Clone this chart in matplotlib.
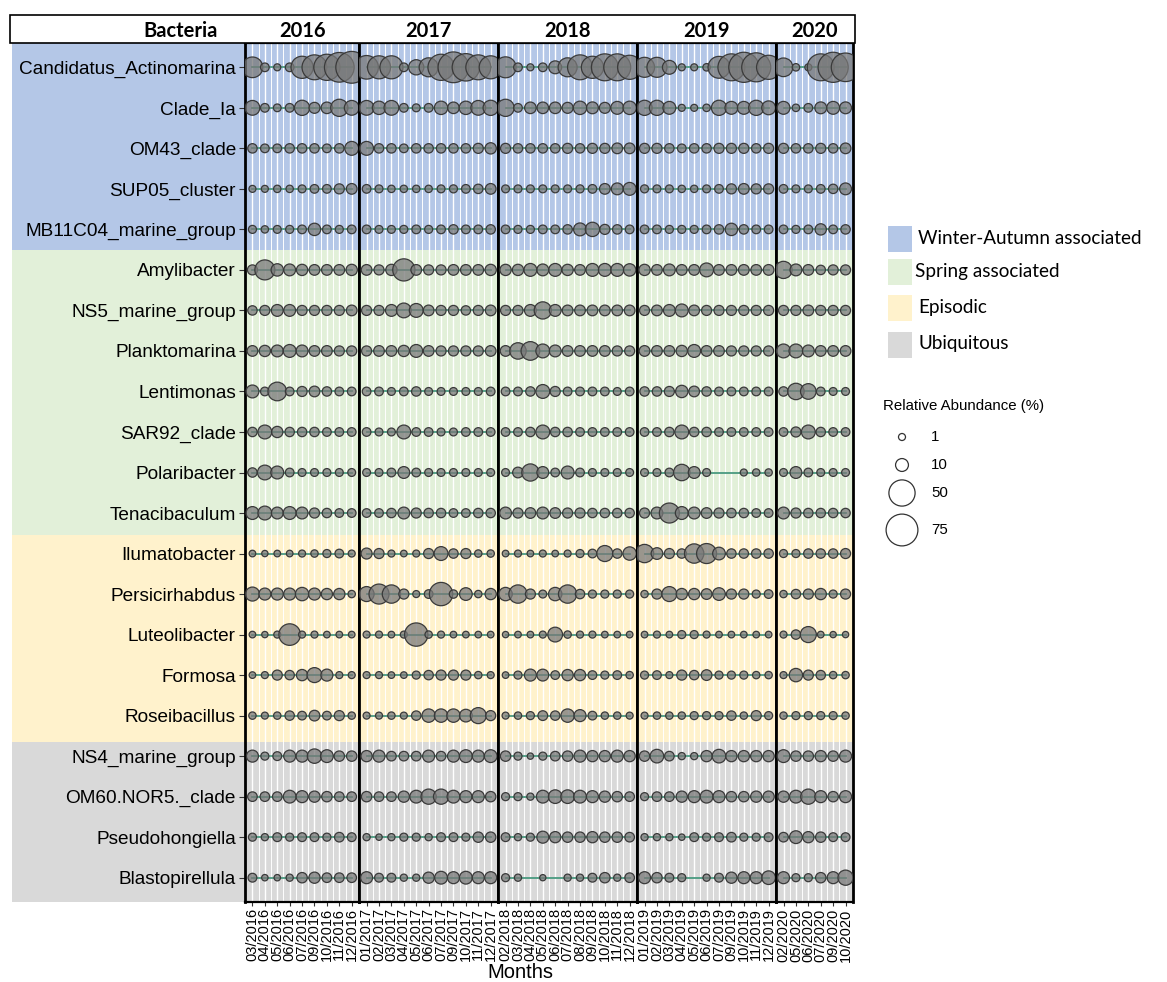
import numpy as np
import matplotlib
matplotlib.use("Agg")
import matplotlib.pyplot as plt
from matplotlib.patches import Rectangle
from matplotlib.transforms import blended_transform_factory

plt.rcParams['font.family'] = ['Liberation Sans', 'DejaVu Sans']

# ---------------- data ----------------
years = ["2016", "2017", "2018", "2019", "2020"]
months_2016 = ["03/2016", "04/2016", "05/2016", "06/2016", "07/2016", "09/2016", "10/2016", "11/2016", "12/2016"]
months_2017 = ["01/2017", "02/2017", "03/2017", "04/2017", "05/2017", "06/2017", "07/2017", "09/2017", "10/2017", "11/2017", "12/2017"]
months_2018 = ["02/2018", "03/2018", "04/2018", "05/2018", "06/2018", "07/2018", "08/2018", "09/2018", "10/2018", "11/2018", "12/2018"]
months_2019 = ["01/2019", "02/2019", "03/2019", "04/2019", "05/2019", "06/2019", "07/2019", "09/2019", "10/2019", "11/2019", "12/2019"]
months_2020 = ["02/2020", "05/2020", "06/2020", "07/2020", "09/2020", "10/2020"]

bacteria = ["Candidatus_Actinomarina", "Clade_Ia", "OM43_clade", "SUP05_cluster", "MB11C04_marine_group",
            "Amylibacter", "NS5_marine_group", "Planktomarina", "Lentimonas", "SAR92_clade", "Polaribacter",
            "Tenacibaculum", "Ilumatobacter", "Persicirhabdus", "Luteolibacter", "Formosa", "Roseibacillus",
            "NS4_marine_group", "OM60.NOR5._clade", "Pseudohongiella", "Blastopirellula"]

group_names = ["Winter-Autumn associated", "Spring associated", "Episodic", "Ubiquitous"]
group_colors = ["#B4C7E7", "#E2F0D9", "#FFF2CC", "#D9D9D9"]
size_breaks = [1, 10, 50, 75]

# relative abundance (%) per month: 2016 | 2017 | 2018 | 2019 | 2020 (0 = not detected)
candidatus_actinomarina = [30, 3, 1, 3, 35, 45, 50, 65, 75,
                           40, 38, 38, 3, 15, 25, 50, 70, 55, 45, 38,
                           31, 3, 1, 3, 10, 25, 45, 35, 53, 53, 42,
                           28, 28, 12, 1, 1, 1.5, 34, 53, 67, 62, 42,
                           24, 1.5, 1, 53, 67, 60]
clade_ia = [14, 3, 1.8, 3, 15, 6.5, 7.5, 20, 14,
            14, 11, 14, 3, 2, 3, 11, 7.5, 11, 14, 15,
            20, 3, 7.5, 7.5, 7.5, 6.5, 11, 8, 6.5, 10, 11,
            15, 15, 10, 1, 1, 1.5, 15, 10, 10, 15, 12,
            10, 1.5, 3, 8, 10, 8]
om43_clade = [4, 3, 3, 4, 4, 4, 3, 4, 12,
              12, 4, 4, 3, 4, 4, 4, 4, 4, 5, 7,
              5, 4, 4, 4, 4, 5, 4, 5, 5, 6, 6,
              5, 5, 4, 3, 4, 4, 5, 5, 5, 4, 5,
              5, 4, 4, 5, 4, 6]
sup05_cluster = [1, 1, 1.4, 1.4, 2, 3, 3, 5, 6,
                 3, 2, 1.4, 1.4, 1.4, 1.4, 2, 2.2, 3, 4, 6,
                 2, 2, 2, 2, 2, 2, 2.2, 3, 6, 8, 10,
                 2.2, 2, 2, 1.4, 1.4, 2, 3, 5, 6, 5, 5,
                 3, 2, 2, 3, 4, 8]
mb11c04_marine_group = [2.2, 1.4, 2, 2.2, 3, 9, 3, 2.2, 3,
                        3, 2, 2, 2.2, 3, 2.2, 3, 4, 3, 3, 4,
                        3, 2.2, 2.2, 3, 3, 4, 10, 13, 5, 4, 3,
                        3, 3, 2.2, 2.2, 2.2, 3, 4, 9, 4, 3, 3,
                        3, 2.2, 3, 7, 3, 4]
amylibacter = [5, 28, 9, 8, 7, 6, 6, 6, 7,
               6, 5, 7, 35, 6, 5, 5, 6, 6, 6, 7,
               7, 7, 10, 8, 10, 7, 6, 10, 10, 10, 9,
               7, 6, 8, 6, 6, 12, 6, 6, 6, 6, 6,
               20, 8, 6, 4, 5, 5]
ns5_marine_group = [4, 5, 8, 8, 5, 5, 5, 5, 6,
                    5, 5, 8, 14, 12, 6, 5, 5, 4, 5, 6,
                    5, 5, 8, 20, 8, 6, 6, 6, 6, 6, 6,
                    5, 6, 8, 10, 6, 5, 5, 5, 5, 5, 5,
                    5, 5, 6, 5, 5, 5]
planktomarina = [6, 7, 8, 10, 8, 6, 6, 5, 5,
                 5, 6, 6, 7, 10, 6, 5, 5, 5, 5, 6,
                 6, 18, 24, 12, 8, 6, 6, 6, 6, 5, 5,
                 6, 6, 6, 7, 10, 6, 6, 5, 5, 5, 5,
                 12, 12, 8, 6, 6, 6]
lentimonas = [10, 3, 24, 3, 5, 6, 4, 3, 3,
              3, 3, 2, 3, 4, 2, 2, 2, 2, 2, 3,
              3, 3, 4, 12, 5, 3, 3, 3, 3, 2, 3,
              4, 4, 5, 9, 6, 4, 3, 3, 3, 3, 3,
              4, 18, 16, 3, 2, 2]
sar92_clade = [4, 12, 7, 4, 4, 4, 3, 3, 3,
               3, 2, 2, 12, 3, 3, 2, 2, 3, 3, 3,
               3, 3, 4, 12, 4, 4, 3, 3, 3, 3, 3,
               3, 3, 4, 12, 4, 4, 3, 3, 3, 3, 3,
               3, 5, 12, 4, 3, 3]
polaribacter = [4, 14, 10, 3, 2, 2, 2, 2, 2,
                2, 2, 3, 8, 3, 2, 2, 2, 2, 2, 2,
                2, 6, 20, 8, 3, 10, 3, 2, 2, 2, 2,
                2, 2, 3, 18, 8, 2, 0, 0, 1, 1.4, 1.4,
                2, 8, 3, 2, 2, 2]
tenacibaculum = [10, 12, 8, 10, 8, 5, 4, 3, 3,
                 3, 3, 4, 8, 5, 4, 4, 3, 3, 4, 4,
                 8, 5, 6, 8, 6, 5, 5, 4, 4, 4, 4,
                 5, 8, 28, 10, 8, 6, 5, 4, 4, 3, 3,
                 8, 5, 4, 4, 4, 4]
ilumatobacter = [0.6, 0.3, 0.6, 0.6, 1, 1.4, 2.2, 3, 1,
                 6.5, 5, 1, 0.6, 1, 5, 12, 4, 5, 1.4, 1.4,
                 0.6, 1, 0.6, 1, 0.6, 1, 2.2, 3, 17, 4, 11,
                 23, 7.7, 5, 4, 26, 28, 9.6, 4, 4, 4, 4,
                 2.2, 2.2, 4, 4, 4, 5]
persicirhabdus = [12.3, 8.3, 8.3, 8.3, 11, 8.3, 7, 7, 1.4,
                  14.5, 28, 23, 5, 1, 3, 39, 2.6, 9.6, 1.4, 7,
                  11, 23, 5, 2, 11, 23, 4, 2.2, 2.2, 2.2, 2.2,
                  1.4, 5, 14.5, 7, 7, 6, 9.6, 5, 5, 2.2, 3,
                  1.4, 4, 5, 7, 2.2, 5]
luteolibacter = [0.6, 0.3, 1, 33, 1, 1, 0.6, 0.6, 0.6,
                 1, 1, 0.6, 1, 39, 1.4, 1, 0.6, 0.6, 0.6, 0.6,
                 0.3, 0.6, 0.6, 1, 14, 1.4, 1, 1, 0.6, 0.6, 0.6,
                 0.6, 1, 0.6, 2.2, 2.2, 1, 0.6, 0.6, 0.6, 0.6, 0.6,
                 1, 4, 17, 0.6, 0.3, 0.3]
formosa = [0.6, 1, 5, 4, 7, 14.5, 8.3, 1, 1,
           1, 1, 0.6, 0.6, 2.2, 4, 5, 5, 5, 1.4, 1,
           0.6, 2.2, 8.3, 8, 3, 7, 7, 3, 2.2, 3, 1.4,
           2.2, 3, 1, 5, 4, 6, 2.2, 2.2, 2.2, 1.4, 1.4,
           1, 11, 5, 4, 1.4, 1.4]
roseibacillus = [1.4, 1, 1.4, 4, 3, 6, 3, 5, 1.4,
                 1, 1, 1.4, 1, 4, 11, 11, 11, 9.6, 17, 5,
                 1, 1.4, 2.2, 4.5, 4, 11, 8.3, 3, 1.4, 1.4, 1,
                 1, 1.4, 1.4, 1.4, 2.2, 2.2, 2.2, 4, 1.4, 5, 2.2,
                 1.4, 2.2, 2.2, 2.2, 2.2, 1.4]
ns4_marine_group = [8.3, 2.2, 3.2, 8.3, 8.3, 13.2, 9.8, 5.5, 5.5,
                    6.9, 8.3, 4.3, 4.3, 4.3, 8.3, 4.3, 8.3, 9.8, 8.3, 9.8,
                    5.5, 2.2, 0.3, 2.2, 4.3, 5.5, 8.3, 6.9, 6.9, 8.3, 6.9,
                    5.5, 11.5, 4.3, 1.2, 1.2, 6.9, 11.5, 6.9, 6.9, 6.9, 6.9,
                    9.8, 5.5, 5.5, 6.9, 5.5, 8.3]
om60_nor5_clade = [4.3, 4.3, 4.3, 9.8, 8.3, 6.9, 5.5, 4.3, 4.3,
                   5.5, 4.3, 4.3, 6.9, 9.8, 15, 15, 9.8, 8.3, 8.3, 5.5,
                   2.2, 2.2, 1.2, 9.8, 11.5, 11.5, 9.8, 8.3, 6.9, 5.5, 4.3,
                   2.2, 4.3, 4.3, 6.9, 8.3, 9.8, 8.3, 5.5, 5.5, 6.9, 6.9,
                   6.9, 9.8, 15, 8.3, 5.5, 8.3]
pseudohongiella = [2.2, 1.2, 3.2, 2.2, 3.2, 3.2, 2.2, 4.3, 3.2,
                   1.2, 0.4, 1.2, 2.2, 2.2, 1.2, 3.2, 3.2, 2.2, 5.5, 5.5,
                   3.2, 1.2, 2.2, 8.3, 6.9, 5.5, 5.5, 6.9, 5.5, 5.5, 4.3,
                   1.2, 1.2, 1.2, 0.4, 3.2, 2.2, 3.2, 4.3, 2.2, 2.2, 3.2,
                   4.3, 9.8, 6.9, 5.5, 3.2, 3.2]
blastopirellula = [3.2, 0.4, 0.4, 1.2, 5.5, 6.9, 4.3, 4.3, 4.3,
                   8.3, 3.2, 3.2, 1.2, 1.2, 6.9, 9.8, 8.3, 9.8, 8.3, 8.3,
                   2.2, 1.2, 0, 0.2, 0, 1.2, 1.2, 3.2, 5.5, 1.2, 4.3,
                   8.3, 5.5, 3.2, 2.2, 0, 1.2, 3.2, 6.9, 8.3, 8.3, 11.5,
                   8.3, 2.2, 2.2, 5.5, 8.3, 15]

abundance = [candidatus_actinomarina, clade_ia, om43_clade, sup05_cluster, mb11c04_marine_group,
             amylibacter, ns5_marine_group, planktomarina, lentimonas, sar92_clade, polaribacter,
             tenacibaculum, ilumatobacter, persicirhabdus, luteolibacter, formosa, roseibacillus,
             ns4_marine_group, om60_nor5_clade, pseudohongiella, blastopirellula]

# ---------------- layout ----------------
W, H, DPI = 1167, 982, 100
LINE = "#4a9a80"
BUBBLE_FC = (0.47, 0.47, 0.47, 0.75)
BUBBLE_EC = "#3a3a3a"


def marker_area(v):
    diam_px = np.sqrt(36 + 13 * np.asarray(v, float))
    return (diam_px * 72.0 / DPI) ** 2


def fx(x):
    return x / W


def fy(y):
    return 1 - y / H


fig = plt.figure(figsize=(W / DPI, H / DPI), dpi=DPI)
fig.patch.set_facecolor("white")

P_L, P_R, P_T, P_B = 245, 853, 43, 902
month_sets = [months_2016, months_2017, months_2018, months_2019, months_2020]
pad = 0.6
widths = [len(m) - 1 + 2 * pad for m in month_sets]
gs = fig.add_gridspec(1, len(years), left=fx(P_L), right=fx(P_R), top=fy(P_T), bottom=fy(P_B),
                      wspace=0, width_ratios=widths)

n_rows = len(bacteria)
rows = np.arange(n_rows)
band_edges = [-0.6, 4.5, 11.55, 16.65, n_rows - 1 + 0.6]
bands = list(zip(band_edges[:-1], band_edges[1:]))

start = 0
axes = []
for k, months in enumerate(month_sets):
    ax = fig.add_subplot(gs[0, k])
    axes.append(ax)
    n = len(months)
    xs = np.arange(n)
    ax.set_xlim(-pad, n - 1 + pad)
    ax.set_ylim(n_rows - 1 + 0.6, -0.6)
    for (y0, y1), c in zip(bands, group_colors):
        ax.axhspan(y0, y1, color=c, lw=0, zorder=0)
    for xv in xs:
        ax.axvline(xv, color="white", lw=1.0, zorder=0.5)
    for xv in xs[:-1] + 0.5:
        ax.axvline(xv, color="white", lw=0.7, zorder=0.5)
    for r in rows:
        vals = np.asarray(abundance[r][start:start + n], float)
        ax.plot(xs, np.full(n, r), color=LINE, lw=1.3, zorder=2)
        m = vals > 0
        ax.scatter(xs[m], np.full(m.sum(), r), s=marker_area(vals[m]), facecolor=BUBBLE_FC,
                   edgecolor=BUBBLE_EC, linewidth=0.9, zorder=3)
    ax.set_xticks(xs)
    ax.set_xticklabels(months, rotation=90, fontsize=10.5)
    ax.tick_params(axis="x", length=3, width=0.8, color="#333333", pad=1.5)
    if k == 0:
        ax.set_yticks(rows)
        ax.set_yticklabels(bacteria, fontsize=13.7)
        ax.tick_params(axis="y", length=4.5, width=0.8, color="#333333", pad=2)
    else:
        ax.set_yticks([])
    for name, sp in ax.spines.items():
        sp.set_color("black")
        sp.set_linewidth(2.0 if name in ("left", "right") else 1.6)
    start += n

# colored background behind the row labels
ax0 = axes[0]
tr = blended_transform_factory(fig.transFigure, ax0.transData)
for (y0, y1), c in zip(bands, group_colors):
    ax0.add_patch(Rectangle((fx(12), y0), fx(P_L) - fx(12), y1 - y0, transform=tr,
                            facecolor=c, lw=0, clip_on=False, zorder=0))

# overlay for header, legends and axis title
ov = fig.add_axes([0, 0, 1, 1])
ov.set_xlim(0, W)
ov.set_ylim(H, 0)
ov.axis("off")
ov.patch.set_alpha(0)

ov.add_patch(Rectangle((10, 15), 845, 28, facecolor="white", edgecolor="black", lw=1.2))
ov.text(218, 31, "Bacteria", ha="right", va="center", fontsize=14.5, fontweight="bold", family=["Lato", "DejaVu Sans"])
bounds = [P_L]
tot = sum(widths)
acc = 0
for w_ in widths:
    acc += w_
    bounds.append(P_L + (P_R - P_L) * acc / tot)
for k, yr in enumerate(years):
    ov.text((bounds[k] + bounds[k + 1]) / 2, 31, yr, ha="center", va="center", fontsize=14.5,
            fontweight="bold", family=["Lato", "DejaVu Sans"])

# group legend
sq_y = [226, 259, 295, 332]
txt_x = [918, 915, 918, 918]
for name, c, y, tx in zip(group_names, group_colors, sq_y, txt_x):
    ov.add_patch(Rectangle((888, y), 24, 26, facecolor=c, lw=0))
    ov.text(tx, y + 12, name, ha="left", va="center", fontsize=13.6, family=["Lato", "DejaVu Sans"])

# size legend
ov.text(883, 406, "Relative Abundance (%)", ha="left", va="center", fontsize=10.8)
leg_y = [437, 465, 493, 530]
ov.scatter([902] * len(size_breaks), leg_y, s=marker_area(size_breaks), facecolor="none",
           edgecolor="#333333", linewidth=0.9)
for v, y in zip(size_breaks, leg_y):
    ov.text(931, y, str(v), ha="left", va="center", fontsize=10.8)

ov.text(520, 982, "Months", ha="center", va="bottom", fontsize=14.5)

fig.savefig("out.png", dpi=DPI)
